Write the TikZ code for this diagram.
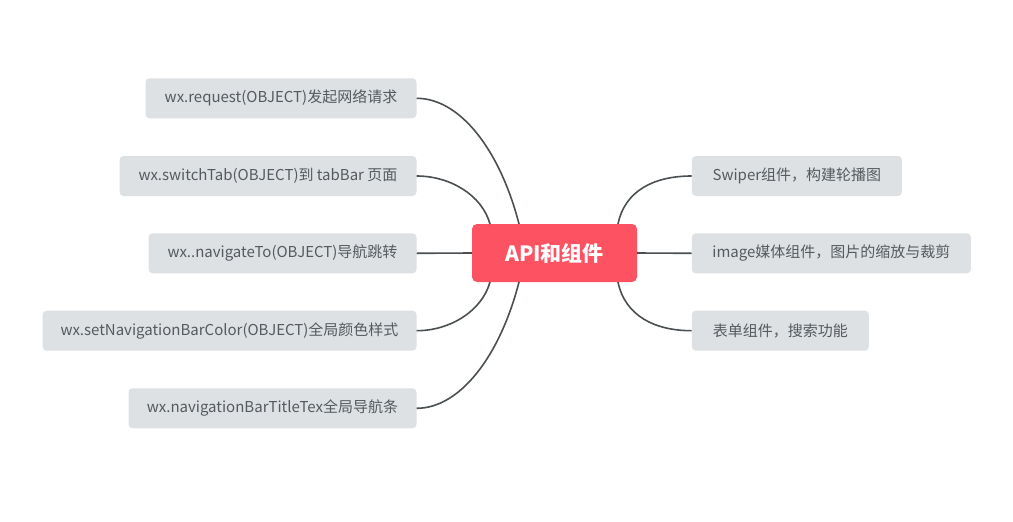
\documentclass[tikz,border=0pt]{standalone}
\usepackage{fontspec}
\setmainfont{Noto Sans CJK SC}
\definecolor{boxfill}{HTML}{DDE1E4}
\definecolor{boxtext}{HTML}{555A5E}
\definecolor{rootred}{HTML}{FD5262}
\definecolor{linkcol}{HTML}{4A4F52}
\begin{document}
\begin{tikzpicture}[x=1pt,y=-1pt,
  leaf/.style={fill=boxfill, rounded corners=4pt, minimum height=40pt, inner sep=0pt,
    text=boxtext, font=\fontsize{15}{18}\selectfont, align=center},
  root/.style={fill=rootred, rounded corners=5pt, minimum width=165pt, minimum height=58pt,
    inner sep=0pt, text=white, font=\fontsize{21}{24}\selectfont\bfseries},
  link/.style={draw=linkcol, line width=1.6pt}]
\useasboundingbox (0,0) rectangle (1013,522);
\node[root] (c) at (554.5,253) {API和组件};
% left
\node[leaf, anchor=east, minimum width=271pt] (l1) at (416.7,98.3) {wx.request(OBJECT)发起网络请求};
\node[leaf, anchor=east, minimum width=297pt] (l2) at (416.7,176) {wx.switchTab(OBJECT)到 tabBar 页面};
\node[leaf, anchor=east, minimum width=268pt] (l3) at (416.7,253.3) {wx..navigateTo(OBJECT)导航跳转};
\node[leaf, anchor=east, minimum width=374pt] (l4) at (416.7,330.7) {wx.setNavigationBarColor(OBJECT)全局颜色样式};
\node[leaf, anchor=east, minimum width=288pt] (l5) at (416.7,408.3) {wx.navigationBarTitleTex全局导航条};
% right
\node[leaf, anchor=west, minimum width=210pt] (r1) at (691.7,176) {Swiper组件，构建轮播图};
\node[leaf, anchor=west, minimum width=279pt] (r2) at (691.7,253.3) {image媒体组件，图片的缩放与裁剪};
\node[leaf, anchor=west, minimum width=177pt] (r3) at (691.7,330.7) {表单组件，搜索功能};
% anchors on root
\coordinate (t1) at (519,224);
\coordinate (t2) at (490,224);
\coordinate (b1) at (519,282);
\coordinate (b2) at (490,282);
\coordinate (tr) at (618,224);
\coordinate (br) at (618,282);
% connectors
\draw[link] (l1.east) .. controls (460,98.3) and (500,150) .. (t1);
\draw[link] (l2.east) .. controls (450,176) and (482,195) .. (t2);
\draw[link] (l3.east) -- (c.west);
\draw[link] (l4.east) .. controls (450,330.7) and (482,311) .. (b2);
\draw[link] (l5.east) .. controls (460,408.3) and (500,356) .. (b1);
\draw[link] (tr) .. controls (625,190) and (655,176) .. (r1.west);
\draw[link] (c.east) -- (r2.west);
\draw[link] (br) .. controls (625,316) and (655,330.7) .. (r3.west);
\end{tikzpicture}
\end{document}
